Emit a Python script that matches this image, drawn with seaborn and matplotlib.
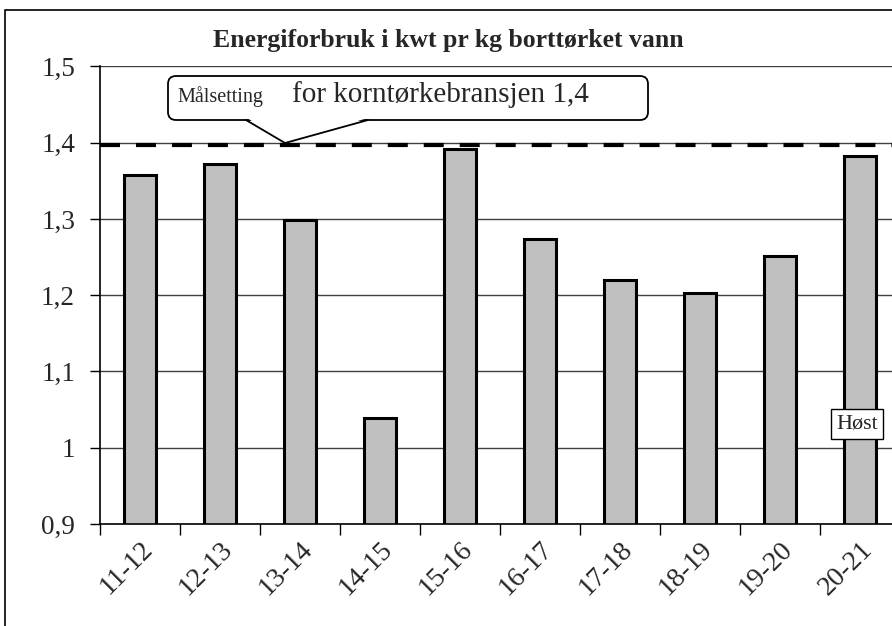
import matplotlib
matplotlib.use("Agg")
import matplotlib.pyplot as plt
import seaborn as sns
import pandas as pd
from matplotlib.patches import FancyBboxPatch, Polygon, Rectangle
from matplotlib.ticker import FixedLocator


# Energiforbruk per sesong
seasons = ["11-12", "12-13", "13-14", "14-15", "15-16",
           "16-17", "17-18", "18-19", "19-20", "20-21"]
energy = [1.358, 1.372, 1.298, 1.039, 1.392,
          1.274, 1.220, 1.203, 1.251, 1.383]
target = 1.4
y_ticks = [0.9, 1.0, 1.1, 1.2, 1.3, 1.4, 1.5]
y_labels = ["0,9", "1", "1,1", "1,2", "1,3", "1,4", "1,5"]

TITLE = "Energiforbruk i kwt pr kg borttørket vann"


def main():
    sns.set_style("white")
    plt.rcParams["font.family"] = ["Liberation Serif", "DejaVu Serif"]

    df = pd.DataFrame({"season": seasons, "energy": energy})

    W, H = 892, 626
    fig = plt.figure(figsize=(W / 100, H / 100), dpi=100)
    ax = fig.add_axes([100 / W, 1 - 524 / H, 800 / W, (524 - 66.4) / H])

    # figure frame (cropped at right and bottom in the original)
    fig.patches.append(Rectangle(
        (5 / W, -0.2), 1.3, 1.2 - 10 / H,
        transform=fig.transFigure, fill=False,
        edgecolor="black", linewidth=1.2, zorder=0
    ))

    sns.barplot(
        data=df, x="season", y="energy",
        color="#c0c0c0", edgecolor="black",
        linewidth=2.2, width=0.4, saturation=1, ax=ax, zorder=3
    )

    ax.set_ylim(0.9, 1.5)
    ax.set_xlim(-0.5, len(seasons) - 0.5)
    ax.set_yticks(y_ticks)
    ax.set_yticklabels(y_labels, fontsize=19.5)

    for y in y_ticks[1:]:
        ax.axhline(y, color="#404040", linewidth=1, zorder=1)

    lw = 3
    ax.axhline(target - 0.0026, color="black", linewidth=lw, zorder=4,
               linestyle=(0, (14.4 / lw, 11.5 / lw)))

    # x ticks: labels at centers, marks at category boundaries
    ax.set_xticks(range(len(seasons)))
    ax.set_xticklabels(seasons, fontsize=20, rotation=45,
                       ha="right", va="top", rotation_mode="anchor")
    ax.tick_params(axis="x", which="major", length=0, pad=9, bottom=True)
    ax.xaxis.set_minor_locator(FixedLocator([i - 0.5 for i in range(len(seasons) + 1)]))
    ax.tick_params(axis="x", which="minor", length=8, width=1, color="black",
                   direction="out", bottom=True)
    ax.tick_params(axis="y", length=7, width=1, color="black", direction="out",
                   left=True, pad=11)

    ax.set_xlabel("")
    ax.set_ylabel("")
    for side in ["top", "right"]:
        ax.spines[side].set_visible(False)
    for side in ["left", "bottom"]:
        ax.spines[side].set_color("black")
        ax.spines[side].set_linewidth(1.2)
    ax.spines["bottom"].set_zorder(5)

    fig.text(448 / W, 1 - 40 / H, TITLE, ha="center", va="center",
             fontsize=18.5, fontweight="bold")

    # callout for the target line (pixel positions -> data coords)
    def px(x, y):
        return ((x - 100) / 80 - 0.5, 1.5 - (y - 66.4) / 762.6)

    x0, y0 = px(168, 120)
    x1, y1 = px(648, 76)
    box = FancyBboxPatch(
        (x0, y0), x1 - x0, y1 - y0,
        boxstyle="round,pad=0,rounding_size=0.1",
        mutation_aspect=0.105,
        facecolor="white", edgecolor="black", linewidth=1.3,
        zorder=6, clip_on=False
    )
    ax.add_patch(box)
    a = px(246, 120)
    b = px(368, 120)
    tip = px(285, 143)
    cover = Polygon([px(248, 118.5), px(366, 118.5), tip], closed=True,
                    facecolor="white", edgecolor="none", zorder=7)
    ax.add_patch(cover)
    ax.plot([a[0], tip[0], b[0]], [a[1], tip[1], b[1]], color="black",
            linewidth=1.3, zorder=8, solid_joinstyle="miter")

    tx, ty = px(177, 102)
    ax.text(tx, ty, "Målsetting", fontsize=14.5, va="baseline",
            ha="left", zorder=9)
    tx2, _ = px(292, 102)
    ax.text(tx2, ty, "for korntørkebransjen 1,4", fontsize=21,
            va="baseline", ha="left", zorder=9)

    hx, hy = px(857, 424)
    ax.text(hx, hy, "Høst", fontsize=16, ha="center", va="center",
            zorder=9,
            bbox=dict(boxstyle="square,pad=0.25", facecolor="white",
                      edgecolor="black", linewidth=1))

    fig.savefig("out.png", dpi=100)
    plt.close(fig)


if __name__ == "__main__":
    main()
